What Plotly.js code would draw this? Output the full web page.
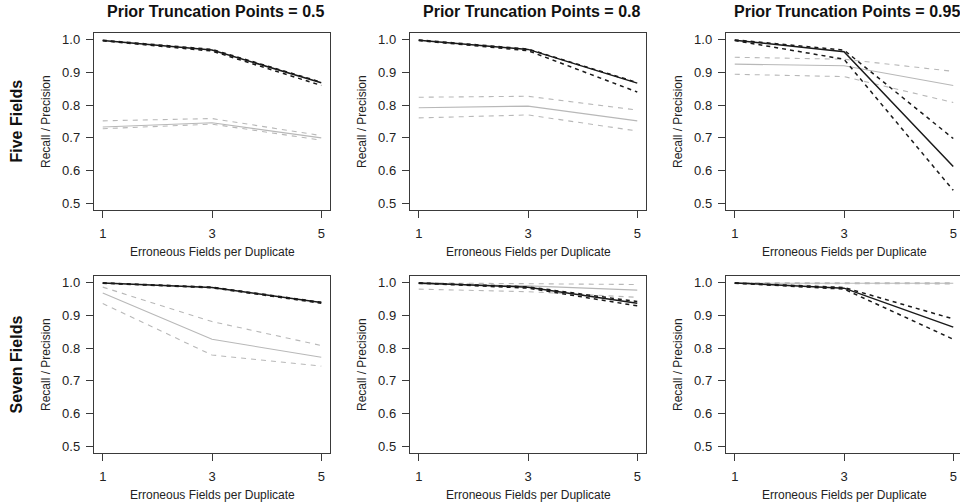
<!DOCTYPE html>
<html>
<head>
<meta charset="utf-8">
<script src="https://cdn.plot.ly/plotly-3.0.1.min.js"></script>
<style>
  html, body { margin: 0; padding: 0; background: #fff; overflow: hidden; width: 960px; height: 504px; }
  #chart { width: 972px; height: 504px; }
</style>
</head>
<body>
<div id="chart"></div>
<script>
// ---- Data ----
const errFields = [1, 3, 5];
const xTickVals = [1, 3, 5];
const yTickVals = [0.5, 0.6, 0.7, 0.8, 0.9, 1.0];
const truncLabels = ["0.5", "0.8", "0.95"];
const rowLabels = ["Five Fields", "Seven Fields"];

// Five fields, truncation 0.5
const five05Black   = [0.997, 0.968, 0.868];
const five05BlackHi = [0.998, 0.970, 0.870];
const five05BlackLo = [0.996, 0.965, 0.860];
const five05Gray    = [0.733, 0.746, 0.700];
const five05GrayHi  = [0.752, 0.759, 0.707];
const five05GrayLo  = [0.728, 0.742, 0.693];

// Five fields, truncation 0.8
const five08Black   = [0.998, 0.970, 0.867];
const five08BlackHi = [0.999, 0.971, 0.869];
const five08BlackLo = [0.997, 0.966, 0.840];
const five08Gray    = [0.792, 0.797, 0.752];
const five08GrayHi  = [0.824, 0.827, 0.785];
const five08GrayLo  = [0.761, 0.770, 0.721];

// Five fields, truncation 0.95
const five095Black   = [0.998, 0.963, 0.613];
const five095BlackHi = [0.999, 0.968, 0.698];
const five095BlackLo = [0.997, 0.940, 0.540];
const five095Gray    = [0.925, 0.920, 0.860];
const five095GrayHi  = [0.946, 0.940, 0.903];
const five095GrayLo  = [0.894, 0.887, 0.808];

// Seven fields, truncation 0.5
const seven05Black   = [0.999, 0.985, 0.939];
const seven05BlackHi = [0.999, 0.986, 0.940];
const seven05BlackLo = [0.998, 0.984, 0.937];
const seven05Gray    = [0.968, 0.827, 0.772];
const seven05GrayHi  = [0.986, 0.881, 0.808];
const seven05GrayLo  = [0.936, 0.779, 0.745];

// Seven fields, truncation 0.8
const seven08Black   = [0.999, 0.986, 0.937];
const seven08BlackHi = [0.999, 0.987, 0.942];
const seven08BlackLo = [0.998, 0.983, 0.929];
const seven08Gray    = [0.996, 0.990, 0.977];
const seven08GrayHi  = [0.999, 0.997, 0.994];
const seven08GrayLo  = [0.980, 0.972, 0.955];

// Seven fields, truncation 0.95
const seven095Black   = [0.999, 0.983, 0.864];
const seven095BlackHi = [0.999, 0.985, 0.889];
const seven095BlackLo = [0.998, 0.980, 0.827];
const seven095Gray    = [0.998, 0.998, 0.998];
const seven095GrayHi  = [0.999, 0.999, 0.999];
const seven095GrayLo  = [0.997, 0.996, 0.996];

const panels = [
  [five05Black, five05BlackHi, five05BlackLo, five05Gray, five05GrayHi, five05GrayLo],
  [five08Black, five08BlackHi, five08BlackLo, five08Gray, five08GrayHi, five08GrayLo],
  [five095Black, five095BlackHi, five095BlackLo, five095Gray, five095GrayHi, five095GrayLo],
  [seven05Black, seven05BlackHi, seven05BlackLo, seven05Gray, seven05GrayHi, seven05GrayLo],
  [seven08Black, seven08BlackHi, seven08BlackLo, seven08Gray, seven08GrayHi, seven08GrayLo],
  [seven095Black, seven095BlackHi, seven095BlackLo, seven095Gray, seven095GrayHi, seven095GrayLo]
];

// ---- Layout geometry (pixels) ----
const W = 972, H = 504;
const colL = [94, 410, 726];
const boxW = 236;
const rowT = [33, 276];
const boxH = 177;
const FONT = "Liberation Sans, Arial, Helvetica, sans-serif";
const BLACK = "#1a1a1a";
const GRAY = "#b8b8b8";
const AXC = "#3a3a3a";

const px = v => v / W;
const py = v => 1 - v / H;

const traces = [];
const layout = {
  width: W, height: H,
  margin: {l: 0, r: 0, t: 0, b: 0},
  paper_bgcolor: "#fff", plot_bgcolor: "#fff",
  showlegend: false,
  font: {family: FONT, color: "#222"},
  annotations: []
};

panels.forEach((p, i) => {
  const r = Math.floor(i / 3), c = i % 3;
  const n = i + 1;
  const xa = n === 1 ? "x" : "x" + n;
  const ya = n === 1 ? "y" : "y" + n;
  const xk = n === 1 ? "xaxis" : "xaxis" + n;
  const yk = n === 1 ? "yaxis" : "yaxis" + n;
  const [bk, bkHi, bkLo, gr, grHi, grLo] = p;
  const mk = (y, color, width, dash) => ({
    type: "scatter", mode: "lines", x: errFields, y: y, xaxis: xa, yaxis: ya,
    line: {color: color, width: width, dash: dash}, hoverinfo: "skip"
  });
  traces.push(mk(grHi, GRAY, 1.1, "5px,5px"));
  traces.push(mk(grLo, GRAY, 1.1, "5px,5px"));
  traces.push(mk(gr, GRAY, 1.1, "solid"));
  traces.push(mk(bkHi, BLACK, 1.5, "4px,4px"));
  traces.push(mk(bkLo, BLACK, 1.5, "4px,4px"));
  traces.push(mk(bk, BLACK, 1.5, "solid"));

  layout[xk] = {
    domain: [px(colL[c]), px(colL[c] + boxW)],
    anchor: ya, range: [0.84, 5.16],
    tickvals: xTickVals, ticks: "outside", ticklen: 7, tickwidth: 1, tickcolor: AXC,
    showline: true, mirror: true, linecolor: AXC, linewidth: 1.2,
    showgrid: false, zeroline: false,
    tickfont: {family: FONT, size: 13, color: "#222"},
    ticklabelstandoff: 4, fixedrange: true
  };
  layout[yk] = {
    domain: [py(rowT[r] + boxH), py(rowT[r])],
    anchor: xa, range: [0.48, 1.02],
    tickvals: yTickVals, tickformat: ".1f", ticks: "outside", ticklen: 7, tickwidth: 1, tickcolor: AXC,
    showline: true, mirror: true, linecolor: AXC, linewidth: 1.2,
    showgrid: false, zeroline: false,
    tickfont: {family: FONT, size: 13, color: "#222"},
    ticklabelstandoff: 3, fixedrange: true
  };

  const cx = colL[c] + boxW / 2;
  layout.annotations.push({
    xref: "paper", yref: "paper", x: px(cx), y: py(rowT[r] + boxH + 42),
    xanchor: "center", yanchor: "middle", showarrow: false,
    text: "Erroneous Fields per Duplicate", font: {family: FONT, size: 12, color: "#222"}
  });
  layout.annotations.push({
    xref: "paper", yref: "paper", x: px(colL[c] - 48.5), y: py(rowT[r] + boxH / 2),
    xanchor: "center", yanchor: "middle", showarrow: false, textangle: -90,
    text: "Recall / Precision", font: {family: FONT, size: 12, color: "#222"}
  });
  if (r === 0) {
    layout.annotations.push({
      xref: "paper", yref: "paper", x: px(cx + 3), y: py(11),
      xanchor: "center", yanchor: "middle", showarrow: false,
      text: "<b>Prior Truncation Points = " + truncLabels[c] + "</b>",
      font: {family: FONT, size: 16, color: "#111"}
    });
  }
  if (c === 0) {
    layout.annotations.push({
      xref: "paper", yref: "paper", x: px(16), y: py(rowT[r] + boxH / 2),
      xanchor: "center", yanchor: "middle", showarrow: false, textangle: -90,
      text: "<b>" + rowLabels[r] + "</b>",
      font: {family: FONT, size: 16, color: "#111"}
    });
  }
});

Plotly.newPlot("chart", traces, layout, {displayModeBar: false, staticPlot: true});
</script>
</body>
</html>
